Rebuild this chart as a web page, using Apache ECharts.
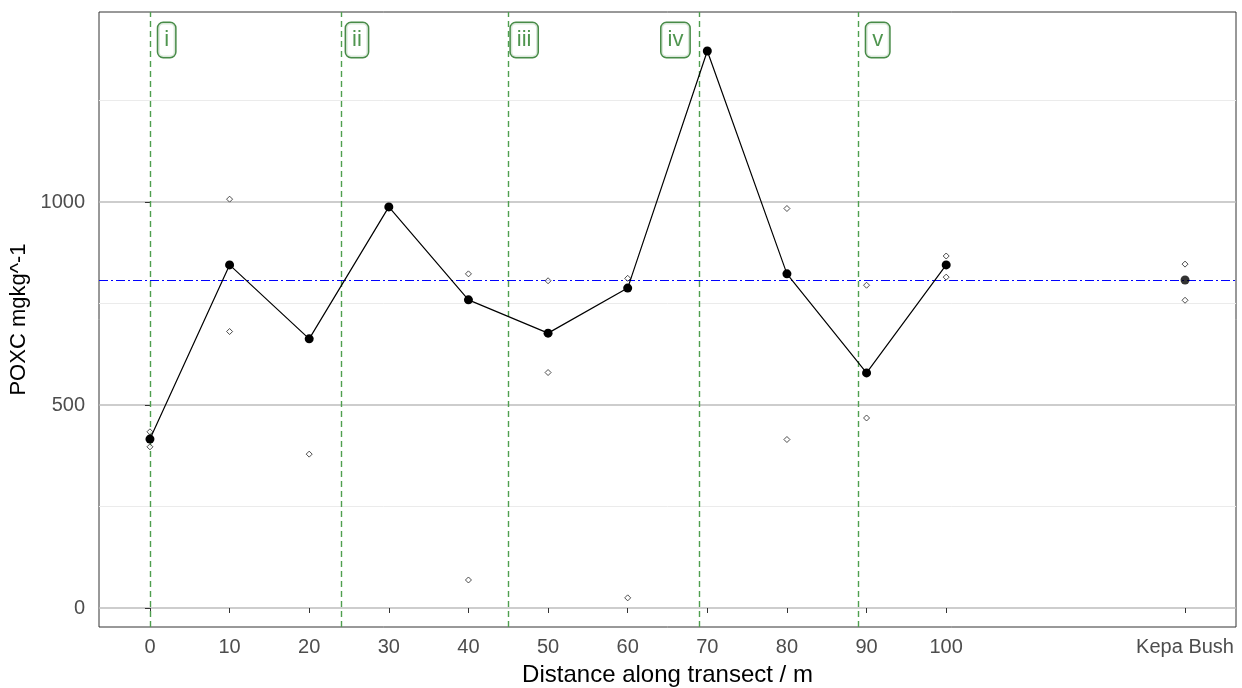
<!DOCTYPE html>
<html>
<head>
<meta charset="utf-8">
<script src="https://cdn.jsdelivr.net/npm/echarts@6/dist/echarts.min.js"></script>
<style>
  html, body { margin: 0; padding: 0; background: #fff; }
  #chart { width: 1242px; height: 688px; }
</style>
</head>
<body>
<div id="chart"></div>
<script>
// transect sites (m) and mean POXC at each
const sites = [0, 10, 20, 30, 40, 50, 60, 70, 80, 90, 100];
const siteMeans = [416, 845, 663, 988, 759, 677, 788, 1372, 823, 579, 845];

// reference site, drawn off to the right
const kepaX = 130;
const kepaMean = 808;

// individual replicate samples
const repSites = [0, 0, 10, 10, 20, 40, 40, 50, 50, 60, 60, 80, 80, 90, 90, 100, 100, 130, 130];
const repValues = [434, 397, 1007, 681, 379, 823, 69, 806, 580, 812, 25, 984, 415, 795, 468, 867, 815, 847, 758];

// zone boundaries, their names and where the name boxes sit
const zoneBreaks = [0, 24, 45, 69, 89];
const zoneNames = ['i', 'ii', 'iii', 'iv', 'v'];
const zoneLabelX = [2.1, 26, 47, 66, 91.4];
const zoneLabelY = 1399;

// axis ticks
const xTicks = [0, 10, 20, 30, 40, 50, 60, 70, 80, 90, 100, 130];
const yTicks = [0, 500, 1000];
const yMinor = [250, 750, 1250];

const font = 'Liberation Sans, Arial, sans-serif';
const chart = echarts.init(document.getElementById('chart'));

chart.setOption({
  animation: false,
  backgroundColor: '#fff',
  grid: {
    left: 99, right: 6, top: 12, bottom: 61,
    outerBoundsMode: 'none',
    show: true, borderColor: '#333', borderWidth: 1, backgroundColor: 'transparent',
  },
  xAxis: {
    type: 'value',
    min: -6.4,
    max: 136.4,
    name: 'Distance along transect / m',
    nameLocation: 'middle',
    nameGap: 36,
    nameTextStyle: { fontFamily: font, fontSize: 24, color: '#000' },
    axisLine: { show: false },
    axisTick: { show: true, customValues: xTicks, length: 5, lineStyle: { color: '#333' } },
    axisLabel: {
      customValues: xTicks,
      margin: 10,
      fontFamily: font,
      fontSize: 20,
      color: '#4d4d4d',
      formatter: (v) => (v === kepaX ? 'Kepa Bush' : String(v)),
    },
    splitLine: { show: false },
  },
  yAxis: {
    type: 'value',
    min: -46.8,
    max: 1468,
    name: 'POXC mgkg^-1',
    nameLocation: 'middle',
    nameGap: 59,
    nameTextStyle: { fontFamily: font, fontSize: 22, color: '#000' },
    axisLine: { show: false },
    axisTick: { show: true, customValues: yTicks, length: 5, lineStyle: { color: '#333' } },
    axisLabel: {
      customValues: yTicks,
      margin: 14,
      fontFamily: font,
      fontSize: 20,
      color: '#4d4d4d',
      formatter: (v) => String(v),
    },
    splitLine: { show: false },
  },
  series: [
    {
      // panel grid lines
      type: 'scatter',
      data: [],
      silent: true,
      markLine: {
        z: 0,
        silent: true,
        symbol: 'none',
        label: { show: false },
        animation: false,
        data: [
          ...yMinor.map((v) => ({ yAxis: v, lineStyle: { color: '#ebebeb', width: 1, type: 'solid' } })),
          ...yTicks.map((v) => ({ yAxis: v, lineStyle: { color: '#bdbdbd', width: 1.5, type: 'solid' } })),
        ],
      },
    },
    {
      // zone boundaries and reference mean
      type: 'scatter',
      data: [],
      silent: true,
      markLine: {
        z: 1,
        silent: true,
        symbol: 'none',
        label: { show: false },
        animation: false,
        data: [
          ...zoneBreaks.map((v) => ({ xAxis: v, lineStyle: { color: '#4f9f4f', width: 1.4, type: [6, 4] } })),
          { yAxis: kepaMean, lineStyle: { color: '#0000ff', width: 1.2, type: [9, 3, 2, 3] } },
        ],
      },
    },
    {
      name: 'replicates',
      type: 'scatter',
      z: 3,
      symbol: 'diamond',
      symbolSize: 6,
      itemStyle: { color: '#fff', borderColor: '#222', borderWidth: 1 },
      data: repSites.map((x, i) => [x, repValues[i]]),
    },
    {
      name: 'mean',
      type: 'line',
      z: 4,
      symbol: 'circle',
      symbolSize: 9,
      lineStyle: { color: '#000', width: 1.2 },
      itemStyle: { color: '#000' },
      data: sites.map((x, i) => [x, siteMeans[i]]),
    },
    {
      name: 'kepa',
      type: 'scatter',
      z: 4,
      symbol: 'circle',
      symbolSize: 9,
      itemStyle: { color: '#000' },
      data: [[kepaX, kepaMean]],
    },
    {
      name: 'zones',
      type: 'scatter',
      z: 5,
      symbolSize: 0,
      silent: true,
      data: zoneLabelX.map((x) => [x, zoneLabelY]),
      label: {
        show: true,
        position: 'inside',
        formatter: (p) => zoneNames[p.dataIndex],
        fontFamily: font,
        fontSize: 22,
        color: '#237a23',
        backgroundColor: '#fff',
        borderColor: '#1a6e1a',
        borderWidth: 1.5,
        borderRadius: 5,
        padding: [6, 6, 6, 6],
      },
    },
  ],
});
</script>
</body>
</html>
